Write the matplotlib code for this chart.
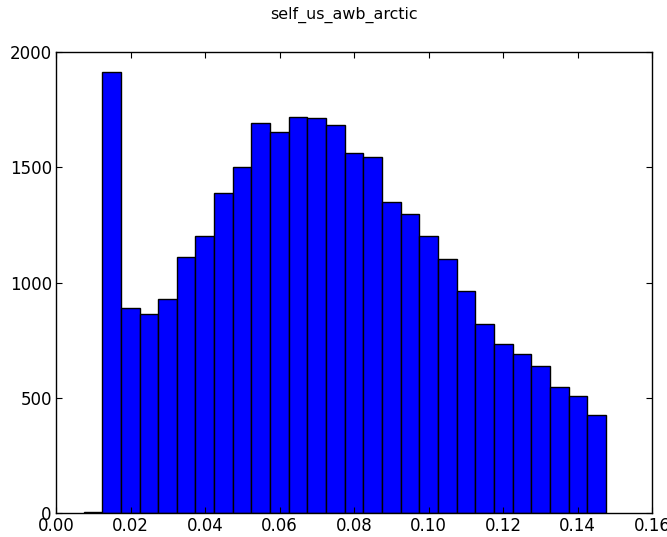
import numpy as np
import matplotlib
matplotlib.use("Agg")
import matplotlib.pyplot as plt

# Histogram bins (value range) and the count in each bin
bin_lo, bin_hi, n_bins = 0.0074, 0.1476, 28
counts = [4, 1912, 888, 863, 927, 1112, 1203, 1387, 1500, 1692, 1654, 1717,
          1712, 1683, 1561, 1544, 1349, 1299, 1203, 1102, 962, 820, 732,
          690, 636, 548, 506, 427]
x_ticks = [0.00, 0.02, 0.04, 0.06, 0.08, 0.10, 0.12, 0.14, 0.16]
y_ticks = [0, 500, 1000, 1500, 2000]
title = "self_us_awb_arctic"

edges = np.linspace(bin_lo, bin_hi, n_bins + 1)

fig = plt.figure(figsize=(6.67, 5.37), dpi=100)
ax = fig.add_axes([56 / 667, 1 - 513 / 537, (652 - 56) / 667, (513 - 52) / 537])

ax.hist(edges[:-1] + np.diff(edges) / 2, bins=edges, weights=counts,
        color="#0000ff", edgecolor="black", linewidth=1.0)

ax.set_xlim(0, 0.16)
ax.set_ylim(0, 2000)
ax.set_xticks(x_ticks)
ax.set_xticklabels([f"{t:.2f}" for t in x_ticks])
ax.set_yticks(y_ticks)
ax.tick_params(direction="in", top=True, right=True, length=4, width=0.8,
               labelsize=12, pad=3)
for s in ax.spines.values():
    s.set_linewidth(1.0)

fig.suptitle(title, fontsize=11.4, x=344 / 667, y=1 - 15 / 537, va="center")

fig.savefig("out.png", dpi=100)
